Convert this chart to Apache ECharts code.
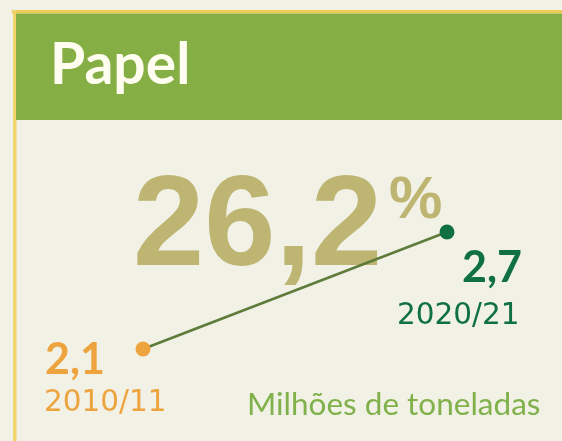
<!DOCTYPE html>
<html><head><meta charset="utf-8">
<script src="https://cdn.jsdelivr.net/npm/echarts@6/dist/echarts.min.js"></script>
<style>html,body{margin:0;padding:0;background:#f2f1e6;}#c{width:562px;height:441px;}</style>
</head><body><div id="c"></div>
<script>
const categories = ["2010/11", "2020/21"];
const values = [2.1, 2.7];
const pointColors = ["#eda43f", "#0f7141"];
const titleText = "Papel";
const changeText = "26,2";
const unitText = "Milhões de toneladas";

const chart = echarts.init(document.getElementById('c'), null, {renderer: 'canvas'});
const fmt = v => v.toFixed(1).replace('.', ',');

const option = {
  backgroundColor: '#f2f1e6',
  animation: false,
  grid: {left: 143, right: 115, top: 232, bottom: 92},
  xAxis: {type: 'category', data: categories, boundaryGap: false, show: false},
  yAxis: {type: 'value', min: 2.1, max: 2.7, show: false},
  series: [{
    type: 'line',
    data: values.map((v, i) => ({value: v, itemStyle: {color: pointColors[i]}})),
    symbol: 'circle', symbolSize: 15,
    lineStyle: {color: '#5e7b3a', width: 2.5},
    z: 5
  }]
};
chart.setOption(option);

const p = values.map((v, i) => chart.convertToPixel({gridIndex: 0}, [i, v]));
const valFont = 'bold 43px Lato';
const catFont = '29.5px "DejaVu Sans"';
const graphics = [
  {type: 'rect', shape: {x: 12, y: 10, width: 550, height: 3.5}, style: {fill: '#eecb55'}, z: 1},
  {type: 'rect', shape: {x: 13, y: 10, width: 3.5, height: 431}, style: {fill: '#f1d36c'}, z: 1},
  {type: 'rect', shape: {x: 16, y: 13.5, width: 546, height: 106.5}, style: {fill: '#85ae44'}, z: 1},
  {type: 'text', x: 50, y: 65.5, style: {text: titleText, font: 'bold 57px Lato', fill: '#fffdf0', align: 'left', verticalAlign: 'middle'}, z: 2},
  {type: 'text', x: 133, y: 230, style: {text: changeText, font: 'bold 128px "Liberation Sans"', fill: '#bdb571', align: 'left', verticalAlign: 'middle'}, z: 2},
  {type: 'text', x: 389, y: 201, style: {text: '%', font: 'bold 60px "Liberation Sans"', fill: '#bdb571', align: 'left', verticalAlign: 'middle'}, z: 2},
  {type: 'text', x: p[0][0] - 98, y: p[0][1] + 11.5, style: {text: fmt(values[0]), font: valFont, fill: pointColors[0], align: 'left', verticalAlign: 'middle'}, z: 2},
  {type: 'text', x: p[0][0] - 99, y: p[0][1] + 54, style: {text: categories[0], font: catFont, fill: pointColors[0], align: 'left', verticalAlign: 'middle'}, z: 2},
  {type: 'text', x: p[1][0] + 15, y: p[1][1] + 36, style: {text: fmt(values[1]), font: valFont, fill: pointColors[1], align: 'left', verticalAlign: 'middle'}, z: 2},
  {type: 'text', x: p[1][0] - 50, y: p[1][1] + 84, style: {text: categories[1], font: catFont, fill: pointColors[1], align: 'left', verticalAlign: 'middle'}, z: 2},
  {type: 'text', x: 247, y: 405, style: {text: unitText, font: '31.5px Lato', fill: '#80b14b', align: 'left', verticalAlign: 'middle'}, z: 2}
];
chart.setOption({graphic: graphics});
</script>
</body></html>
